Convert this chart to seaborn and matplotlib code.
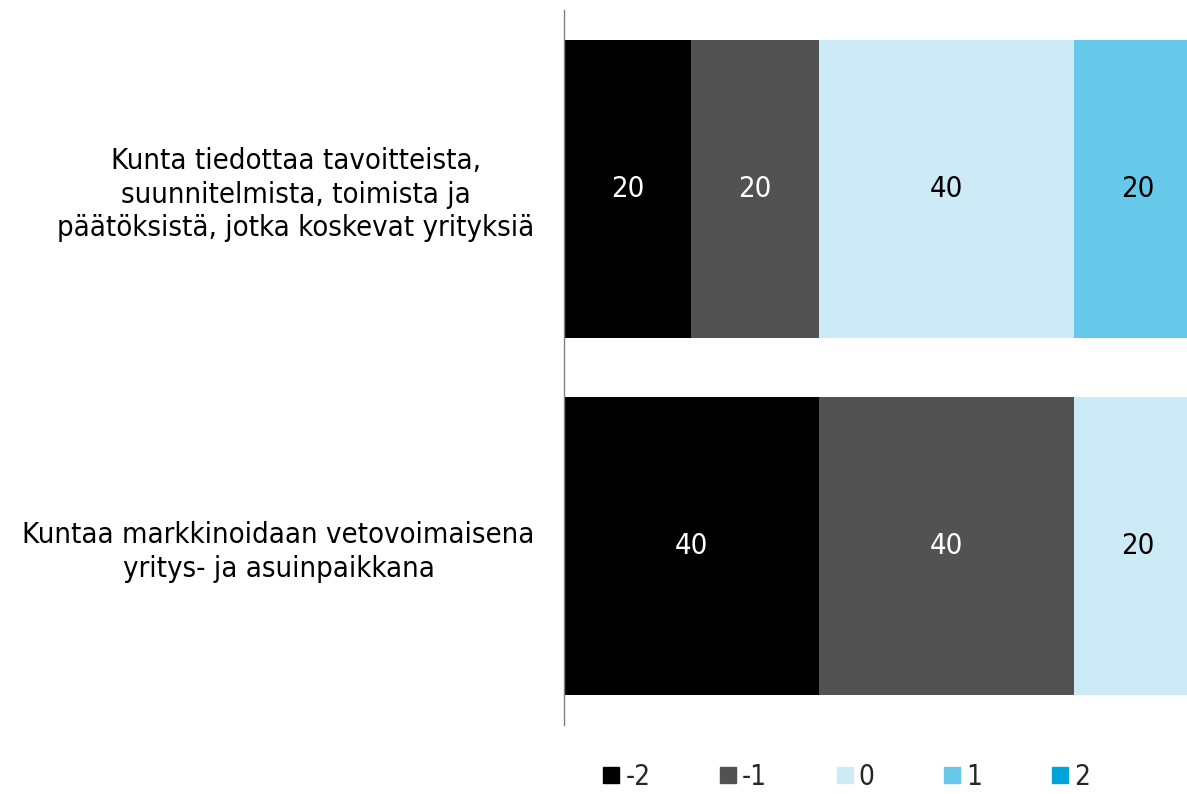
import numpy as np
import pandas as pd
import matplotlib
matplotlib.use('Agg')
from matplotlib import pyplot as plt
from matplotlib.lines import Line2D
import seaborn as sns

# data
statements = ['Kunta tiedottaa tavoitteista,\nsuunnitelmista, toimista ja\npäätöksistä, jotka koskevat yrityksiä',
              'Kuntaa markkinoidaan vetovoimaisena\nyritys- ja asuinpaikkana']
levels = ['-2', '-1', '0', '1', '2']
v_m2 = [20, 40]
v_m1 = [20, 40]
v_0 = [40, 20]
v_p1 = [20, 0]
v_p2 = [0, 0]
colors = ['#000000', '#525252', '#CCEBF6', '#66C9EA', '#00A2DA']
text_colors = ['white', 'white', 'black', 'black', 'black']

sns.set_theme(style='white')
plt.rcParams['font.family'] = ['DejaVu Sans']
plt.rcParams['font.stretch'] = 'condensed'
FS = 21

df = pd.DataFrame({'statement': statements, '-2': v_m2, '-1': v_m1, '0': v_0, '1': v_p1, '2': v_p2})
cum = df[levels].cumsum(axis=1)

fig = plt.figure(figsize=(11.87, 7.94), dpi=100)
ax = fig.add_axes([0.475, 0.087, 0.525, 0.9])

# stacked bars: draw cumulative totals from the last level back to the first
for lev, col in reversed(list(zip(levels, colors))):
    sns.barplot(x=cum[lev], y=df['statement'], orient='h', color=col, saturation=1,
                width=0.835, ax=ax, linewidth=0)

# segment labels
for i, row in df.iterrows():
    left = 0
    for lev, tc in zip(levels, text_colors):
        v = row[lev]
        if v > 0:
            ax.text(left + v / 2, i, str(v), ha='center', va='center', color=tc, fontsize=FS)
        left += v

# the plot area is cut at the right edge of the picture
ax.set_xlim(0, 97.7)
ax.set_ylim(1.5, -0.5)
ax.set_xlabel('')
ax.set_ylabel('')
ax.set_xticks([])
for s in ['top', 'right', 'bottom']:
    ax.spines[s].set_visible(False)
ax.spines['left'].set_color('#808080')
ax.spines['left'].set_linewidth(1)
ax.tick_params(axis='y', length=0, pad=21, labelsize=FS, labelcolor='black')
for lbl in ax.get_yticklabels():
    lbl.set_multialignment('center')
    lbl.set_linespacing(1.25)

handles = [Line2D([], [], marker='s', linestyle='', markersize=11, color=c) for c in colors]
fig.legend(handles, levels, loc='center', bbox_to_anchor=(0.713, 0.022), ncol=5, frameon=False,
           fontsize=20, handletextpad=0.2, columnspacing=2.5, handlelength=0.6,
           borderpad=0.1)

plt.savefig('out.png', dpi=100)
